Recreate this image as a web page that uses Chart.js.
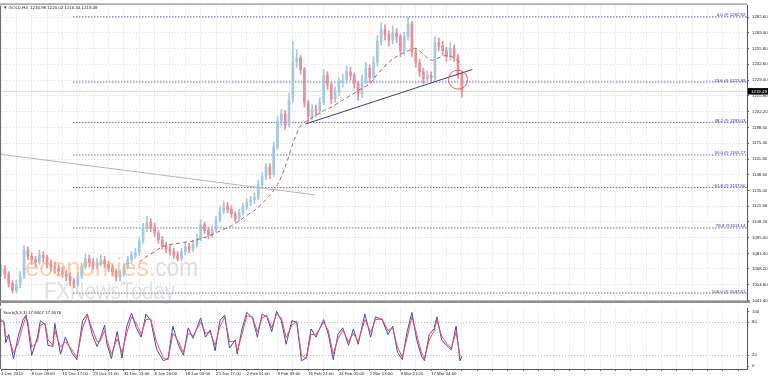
<!DOCTYPE html>
<html>
<head>
<meta charset="utf-8">
<script src="https://cdn.jsdelivr.net/npm/chart.js@4.4.1/dist/chart.umd.min.js"></script>
<style>
  html, body { margin: 0; padding: 0; background: #fff; }
  #wrap { position: relative; width: 768px; height: 380px; overflow: hidden; }
  #main { position: absolute; left: 0; top: 0; width: 768px; height: 306px; }
  #stoch { position: absolute; left: 0; top: 303px; width: 768px; height: 77px; }
</style>
</head>
<body>
<div id="wrap">
  <canvas id="main" width="768" height="306"></canvas>
  <canvas id="stoch" width="768" height="77"></canvas>
</div>
<script>
// GOLD H4, one candle per 4 H4 bars
const titleOHLC = [1216.98, 1220.02, 1216.34, 1219.49];

const opens = [1066,1068,1064,1056,1050,1055,1062,1084,1079,1076, 1074,1080,1078,1072,1070,1069,1066,1064,1062,1058,
  1055,1062,1070,1077,1074,1071,1073,1076,1072,1069, 1066,1061,1064,1070,1076,1080,1082,1092,1103,1108,
  1104,1099,1093,1088,1085,1083,1080,1077,1083,1087, 1085,1089,1094,1106,1101,1097,1102,1110,1117,1122,
  1119,1115,1111,1116,1121,1125,1127,1129,1140,1147, 1155,1149,1172,1194,1200,1191,1212,1245,1248,1238,
  1210,1198,1204,1203,1210,1233,1225,1213,1219,1227, 1229,1236,1233,1226,1217,1229,1239,1231,1244,1262,
  1272,1268,1263,1269,1266,1254,1266,1277,1253,1244, 1236,1230,1233,1231,1261,1258,1254,1249,1256,1249,
  1234];
const highs = [1072,1071,1066,1058,1059,1066,1088,1087,1082,1079, 1084,1083,1080,1076,1074,1072,1070,1067,1065,1060,
  1065,1073,1081,1080,1077,1077,1080,1079,1075,1072, 1068,1067,1073,1079,1083,1086,1095,1107,1113,1111,
  1107,1101,1096,1091,1089,1086,1083,1086,1091,1090, 1093,1098,1110,1108,1104,1105,1113,1121,1126,1125,
  1122,1117,1119,1124,1128,1130,1133,1144,1150,1158, 1158,1176,1198,1204,1203,1218,1262,1255,1250,1240,
  1212,1208,1208,1214,1238,1236,1227,1223,1231,1234, 1241,1240,1235,1228,1233,1244,1242,1249,1267,1278,
  1276,1271,1275,1273,1268,1270,1282.9,1279,1256,1247, 1239,1237,1236,1266,1265,1262,1257,1261,1259,1251,
  1236];
const lows = [1062,1060,1053,1047.6,1048,1052,1060,1076,1072,1070, 1072,1074,1069,1066,1065,1062,1061,1058,1054,1052,
  1053,1060,1068,1070,1068,1068,1071,1069,1066,1062, 1058,1058,1062,1068,1074,1077,1080,1090,1100,1100,
  1096,1090,1085,1082,1080,1077,1075,1075,1080,1082, 1083,1087,1092,1098,1094,1095,1100,1108,1115,1116,
  1112,1108,1109,1114,1119,1122,1124,1127,1137,1144, 1145,1147,1170,1190,1187,1189,1210,1240,1234,1206,
  1193,1195,1198,1200,1208,1221,1209,1210,1216,1223, 1226,1229,1222,1212,1214,1226,1227,1229,1241,1259,
  1263,1258,1260,1261,1249,1251,1263,1249,1240,1232, 1226,1227,1227,1229,1254,1250,1245,1246,1245,1230,
  1214.5];
const closes = [1068,1064,1056,1050,1055,1062,1084,1079,1076,1074, 1080,1078,1072,1070,1069,1066,1064,1062,1058,1055,
  1062,1070,1077,1074,1071,1073,1076,1072,1069,1066, 1061,1064,1070,1076,1080,1082,1092,1103,1108,1104,
  1099,1093,1088,1085,1083,1080,1077,1083,1087,1085, 1089,1094,1106,1101,1097,1102,1110,1117,1122,1119,
  1115,1111,1116,1121,1125,1127,1129,1140,1147,1155, 1149,1172,1194,1200,1191,1212,1245,1248,1238,1210,
  1198,1204,1203,1210,1233,1225,1213,1219,1227,1229, 1236,1233,1226,1217,1229,1239,1231,1244,1262,1272,
  1268,1263,1269,1266,1254,1266,1277,1253,1244,1236, 1230,1233,1231,1261,1258,1254,1249,1256,1249,1234,
  1219.49];
const barsPerCandle = 4;

// dashed moving average (bar index, price)
const maBars = [144,152,160,168,176,184,192,200,208,216,224,232,240,248,256,264,272,280,288,296,
  304,312,320,328,336,344,352,360,368,376,384,392,400,408,416,424,432,440,448,456,464,472,480];
const maValues = [1074,1079,1083,1087,1089,1090,1091,1092,1094,1096,1099,1102,1105,1109,1114,1118,1124,1131,1140,1155,
  1175,1190,1195,1199,1203,1206,1210,1214,1218,1222,1226,1234,1241,1247,1251,1254,1256,1251,1246,1248,
  1250,1248,1242];

// fibonacci retracement
const fibLabels = ['0.0 @ 1282.92', '23.6 @ 1227.39', '38.2 @ 1193.03', '50.0 @ 1165.27', '61.8 @ 1137.50', '76.4 @1103.14', '100.0 @ 1047.61'];
const fibPrices = [1282.92, 1227.39, 1193.03, 1165.27, 1137.50, 1103.14, 1047.61];
const fibStartBar = 75;

// drawn objects: [bar, price]
const grayLine = [[0, 1165.8], [327, 1131.3]];
const supportLine = [[317, 1191.6], [491, 1238.1]];
const breakCircle = [476, 1229.4];

const yTicks = [1282.6, 1269.4, 1255.8, 1242.6, 1229.0, 1215.8, 1202.2, 1188.6, 1175.4, 1161.8,
  1148.6, 1135.0, 1121.8, 1108.2, 1095.0, 1081.4, 1068.2, 1054.6, 1041.4];

const dateLabels = ['1 Dec 2015', '8 Dec 09:00', '15 Dec 17:00', '23 Dec 01:00', '31 Dec 13:00', '8 Jan 20:00',
  '18 Jan 05:00', '25 Jan 17:00', '2 Feb 01:00', '9 Feb 09:00', '16 Feb 21:00', '24 Feb 05:00',
  '2 Mar 13:00', '9 Mar 21:00', '17 Mar 04:00'];
const labelStep = 32;
const gridStep = 16;
const xMax = 777;

// stochastic (5,3,3)
const stochBars = [0,3,5,8,13,18,23,26,28,32, 38,41,46,49,54,56,62,67,74,79, 85,90,95,100,103,108,110,115,121,126,
  131,136,141,146,151,156,162,169,174,179, 185,190,195,200,208,213,218,223,228,233, 238,244,246,251,256,262,267,272,277,282,
  287,292,297,303,308,313,318,323,328,336, 341,346,351,356,362,367,372,379,385,390, 397,403,408,413,418,423,428,433,438,441,
  446,451,454,459,464,469,474,478,480];
const stochMain = [85,80,43,58,14,55,85,93,73,20, 53,83,75,38,36,78,22,53,24,12, 83,95,58,36,48,75,43,14,63,15,
  73,97,70,53,95,83,31,10,14,73, 38,20,70,51,88,53,66,28,83,93, 33,48,22,68,98,88,53,95,90,63,
  100,83,40,83,80,10,15,68,53,85, 58,12,58,70,38,68,40,95,53,90, 85,58,73,25,12,63,98,48,18,10,
  58,68,90,48,38,30,73,10,17.8007];
const stochSignal = [82,82,55,52,25,42,75,90,80,35, 45,75,78,48,38,65,35,45,30,16, 70,92,68,45,45,65,50,22,50,25,
  60,90,78,58,85,86,45,15,12,60, 45,25,60,55,80,60,62,38,72,90, 45,45,28,58,92,90,62,88,92,70,
  95,88,52,75,82,20,14,58,58,80, 65,22,50,66,45,60,45,85,62,85, 86,65,70,35,16,52,90,58,25,13,
  48,64,84,55,42,33,62,20,17.3076];
const stochTicks = [0, 20, 80, 100];

const FONT = "'Liberation Sans', 'DejaVu Sans', sans-serif";
const TEXT = '#1e1e1e';
const GRID = '#dcdcdc';
const UP = '#a3c8e0';
const DOWN = '#e78e98';

Chart.defaults.font.family = FONT;
Chart.defaults.font.size = 4.3;
Chart.defaults.color = TEXT;

const gridBars = [];
for (let b = 0; b <= xMax; b += gridStep) gridBars.push(b);

const candleColor = ctx => closes[ctx.dataIndex] >= opens[ctx.dataIndex] ? UP : DOWN;
const toPoints = pairs => pairs.map(p => ({ x: p[0], y: p[1] }));

const fibSets = fibPrices.map(p => ({
  type: 'line',
  data: [{ x: fibStartBar, y: p }, { x: xMax, y: p }],
  borderColor: '#6a6aae', borderWidth: 1, borderDash: [1.5, 1.5],
  pointRadius: 0, order: 9
}));

const overlay = {
  id: 'overlay',
  afterDatasetsDraw(chart) {
    const ctx = chart.ctx;
    ctx.save();
    ctx.font = '26px ' + FONT;
    ctx.textBaseline = 'alphabetic';
    ctx.fillStyle = 'rgba(244,172,116,0.55)';
    ctx.fillText('economies', 25, 276, 124);
    ctx.fillStyle = 'rgba(185,185,185,0.5)';
    ctx.fillText('.com', 149, 276, 49);
    ctx.fillStyle = 'rgba(185,185,185,0.42)';
    ctx.font = '23px ' + FONT;
    ctx.fillText('FXNewsToday', 44, 299, 131);
    ctx.restore();
  },
  afterDraw(chart) {
    const ctx = chart.ctx;
    const area = chart.chartArea;
    const y = chart.scales.y;
    ctx.save();
    // frame
    ctx.strokeStyle = '#6e6e6e';
    ctx.lineWidth = 1;
    ctx.beginPath();
    ctx.moveTo(0.5, area.top);
    ctx.lineTo(0.5, 306);
    ctx.moveTo(0, area.top - 1.5);
    ctx.lineTo(area.right, area.top - 1.5);
    ctx.stroke();
    // panel separator
    ctx.fillStyle = '#8c8c8c';
    ctx.fillRect(0, area.bottom, area.right + 3, 2.5);

    ctx.font = '4.4px ' + FONT;
    ctx.textBaseline = 'middle';
    ctx.fillStyle = TEXT;
    ctx.fillText('\u25BC GOLD,H4  ' + titleOHLC.map(v => v.toFixed(2)).join(' '), 3, area.top + 2);

    // fib labels
    ctx.textAlign = 'right';
    ctx.textBaseline = 'alphabetic';
    ctx.fillStyle = '#2e2e88';
    fibPrices.forEach((p, i) => {
      ctx.fillText(fibLabels[i], area.right - 1.5, y.getPixelForValue(p) - 0.5);
    });

    // current price box
    const last = closes[closes.length - 1];
    const py = y.getPixelForValue(last);
    ctx.fillStyle = '#000';
    ctx.fillRect(area.right + 1, py - 3.2, 768 - area.right, 6.4);
    ctx.fillStyle = '#fff';
    ctx.textAlign = 'left';
    ctx.textBaseline = 'middle';
    ctx.fillText(last.toFixed(2), area.right + 4, py + 0.2);
    ctx.restore();
  }
};

new Chart(document.getElementById('main'), {
  type: 'line',
  data: {
    datasets: [
      {
        type: 'line',
        data: [{ x: 0, y: closes[closes.length - 1] }, { x: xMax, y: closes[closes.length - 1] }],
        borderColor: '#d3ddd3', borderWidth: 1, pointRadius: 0, order: 10
      },
      ...fibSets,
      {
        type: 'bar',
        data: closes.map((c, i) => ({ x: i * barsPerCandle, y: [lows[i], highs[i]] })),
        backgroundColor: candleColor, barThickness: 1, grouped: false, order: 5
      },
      {
        type: 'bar',
        data: closes.map((c, i) => ({ x: i * barsPerCandle, y: [opens[i], c] })),
        backgroundColor: candleColor, barThickness: 2, minBarLength: 1, grouped: false, order: 4
      },
      {
        type: 'line',
        data: maBars.map((b, i) => ({ x: b, y: maValues[i] })),
        borderColor: '#a86262', borderWidth: 1, borderDash: [4, 3], pointRadius: 0, tension: 0.3, order: 3
      },
      {
        type: 'line', data: toPoints(grayLine),
        borderColor: '#bab2ba', borderWidth: 1, pointRadius: 0, order: 2
      },
      {
        type: 'line', data: toPoints(supportLine),
        borderColor: '#3d3d78', borderWidth: 1, pointRadius: 0, order: 2
      },
      {
        type: 'line', data: [{ x: breakCircle[0], y: breakCircle[1] }], showLine: false,
        pointRadius: 9.5, pointBorderWidth: 1, pointBorderColor: '#e0606e',
        pointBackgroundColor: 'rgba(0,0,0,0)', order: 1
      }
    ]
  },
  options: {
    responsive: false,
    animation: false,
    events: [],
    layout: { autoPadding: false, padding: { left: 1, top: 4, right: 0, bottom: 3 } },
    plugins: { legend: { display: false }, tooltip: { enabled: false } },
    scales: {
      x: {
        type: 'linear', min: 0, max: xMax, offset: false,
        afterBuildTicks: s => { s.ticks = gridBars.map(v => ({ value: v })); },
        afterFit: s => { s.height = 0; },
        ticks: { display: false },
        grid: { color: GRID, drawTicks: false, offset: false },
        border: { display: false, dash: [1, 2] }
      },
      y: {
        type: 'linear', position: 'right', min: 1041.4, max: 1292.5,
        afterBuildTicks: s => { s.ticks = yTicks.map(v => ({ value: v })); },
        afterFit: s => { s.width = 21; },
        ticks: { padding: 3, callback: v => Number(v).toFixed(2) },
        grid: { color: GRID, tickLength: 2, tickColor: '#666', tickBorderDash: [] },
        border: { display: true, color: '#555', dash: [1, 2] }
      }
    }
  },
  plugins: [overlay]
});

const stochOverlay = {
  id: 'stochOverlay',
  afterDraw(chart) {
    const ctx = chart.ctx;
    const area = chart.chartArea;
    ctx.save();
    ctx.strokeStyle = '#6e6e6e';
    ctx.lineWidth = 1;
    ctx.beginPath();
    ctx.moveTo(0.5, area.top);
    ctx.lineTo(0.5, area.bottom);
    ctx.stroke();
    ctx.font = '4.4px ' + FONT;
    ctx.fillStyle = TEXT;
    ctx.textBaseline = 'middle';
    const k = stochMain[stochMain.length - 1];
    const d = stochSignal[stochSignal.length - 1];
    ctx.fillText('Stoch(5,3,3) ' + k.toFixed(4) + ' ' + d.toFixed(4), 3, area.top + 4);
    ctx.restore();
  }
};

new Chart(document.getElementById('stoch'), {
  type: 'line',
  data: {
    datasets: [
      {
        data: stochBars.map((b, i) => ({ x: b, y: stochMain[i] })),
        borderColor: '#4c4aa8', borderWidth: 1, pointRadius: 0, tension: 0, order: 2
      },
      {
        data: stochBars.map((b, i) => ({ x: b, y: stochSignal[i] })),
        borderColor: '#e0506e', borderWidth: 1, pointRadius: 0, tension: 0, order: 1
      }
    ]
  },
  options: {
    responsive: false,
    animation: false,
    events: [],
    layout: { autoPadding: false, padding: { left: 1, top: 3, right: 0, bottom: 0 } },
    plugins: { legend: { display: false }, tooltip: { enabled: false } },
    scales: {
      x: {
        type: 'linear', min: 0, max: xMax, offset: false,
        afterBuildTicks: s => { s.ticks = gridBars.map(v => ({ value: v })); },
        afterFit: s => { s.height = 11; },
        ticks: {
          align: 'start', padding: 0, maxRotation: 0, autoSkip: false,
          callback: v => (v % labelStep === 0 && v / labelStep < dateLabels.length) ? dateLabels[v / labelStep] : ''
        },
        grid: { color: GRID, tickLength: 2, tickColor: '#666', tickBorderDash: [], offset: false },
        border: { display: true, color: '#555', dash: [1, 2] }
      },
      y: {
        type: 'linear', position: 'right', min: -5, max: 105,
        afterBuildTicks: s => { s.ticks = stochTicks.map(v => ({ value: v })); },
        afterFit: s => { s.width = 21; },
        ticks: { padding: 3, callback: v => String(v) },
        grid: {
          color: ctx => (ctx.tick && (ctx.tick.value === 20 || ctx.tick.value === 80)) ? '#bdbdbd' : 'rgba(0,0,0,0)',
          tickLength: 2, tickColor: '#666', tickBorderDash: []
        },
        border: { display: true, color: '#555', dash: [1, 2] }
      }
    }
  },
  plugins: [stochOverlay]
});
</script>
</body>
</html>
